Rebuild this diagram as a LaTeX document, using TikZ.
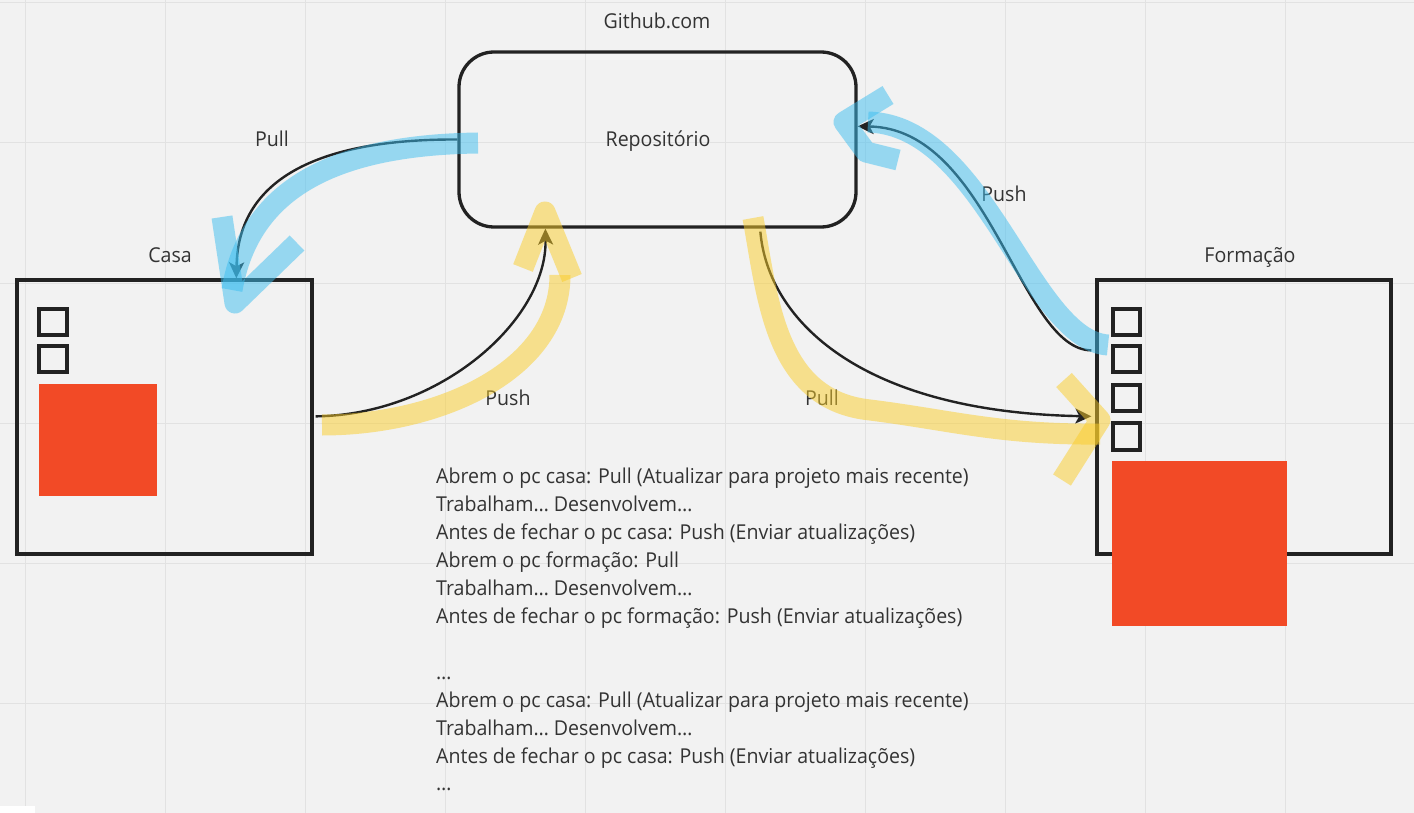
\documentclass[tikz,border=0pt]{standalone}
\usepackage{fontspec}
\setmainfont{Open Sans}[FakeStretch=0.955]
\usetikzlibrary{arrows.meta,calc}
\definecolor{bg}{RGB}{242,242,242}
\definecolor{gridc}{RGB}{226,226,226}
\definecolor{ink}{RGB}{34,34,34}
\definecolor{txt}{RGB}{51,51,51}
\definecolor{redc}{RGB}{242,74,38}
\definecolor{hlblue}{RGB}{60,190,240}
\definecolor{hlyellow}{RGB}{250,205,40}
\begin{document}
\begin{tikzpicture}[x=1pt,y=-1pt,
  box/.style={draw=ink, line width=3.3pt, inner sep=0pt},
  lbl/.style={text=txt, font=\fontsize{20.5}{28}\selectfont, inner sep=0pt},
  conn/.style={draw=ink, line width=2.4pt, -{Stealth[length=16pt,width=15pt,inset=4pt]}},
  hlb/.style={draw=hlblue, draw opacity=0.5, line width=21pt, line join=round},
  hly/.style={draw=hlyellow, draw opacity=0.5, line width=21pt, line join=round},
  chk/.style={draw=ink, line width=3.5pt},
  redbox/.style={fill=redc}
]
% background and grid
\useasboundingbox (0,0) rectangle (1414,813);
\fill[bg] (0,0) rectangle (1414,813);
\foreach \gx in {25,165,...,1405} \draw[gridc, line width=1pt] (\gx,0) -- (\gx,813);
\foreach \gy in {3,143,...,813} \draw[gridc, line width=1pt] (0,\gy) -- (1414,\gy);
\fill[white] (0,806) rectangle (35,813);

% main boxes
\node[box, rounded corners=35pt, minimum width=397pt, minimum height=175pt] (repo) at (657.5,139.5) {};
\node[lbl, anchor=base] (repolbl) at (658,147) {Repositório};
\node[lbl, anchor=base] (github) at (657,29) {Github.com};
\node[box, minimum width=295pt, minimum height=274pt] (casa) at (164.5,417) {};
\node[lbl, anchor=base] (casalbl) at (170,262) {Casa};
\node[box, minimum width=294pt, minimum height=274pt] (form) at (1244,417) {};
\node[lbl, anchor=base] (formlbl) at (1250,262) {Formação};

% contents of Casa
\draw[chk] (39,309) rectangle (67,335);
\draw[chk] (39,346) rectangle (67,372);
\fill[redbox] (39,384) rectangle (157,496);

% contents of Formacao
\draw[chk] (1113,309) rectangle (1140,335);
\draw[chk] (1113,346) rectangle (1140,372);
\draw[chk] (1113,385) rectangle (1140,411);
\draw[chk] (1113,423) rectangle (1140,450);
\fill[redbox] (1112,461) rectangle (1287,626);

% connectors
\draw[conn] (repo.west) .. controls (345,139) and (238,165) .. ($(casa.north west)+(221,0)$);
\draw[conn] ($(form.north west)+(-4,72)$) .. controls (1020,350) and (990,128) .. ($(repo.north east)+(0,76)$);
\draw[conn] ($(casa.north east)+(2,138)$) .. controls (440,415) and (547,320) .. ($(repo.south west)+(88,0)$);
\draw[conn] ($(repo.south west)+(303,3)$) .. controls (768,320) and (860,412) .. ($(form.north west)+(-4,138)$);

% connector labels
\node[lbl, anchor=base] (l1) at (272,147) {Pull};
\node[lbl, anchor=base] (l2) at (1004,202) {Push};
\node[lbl, anchor=base] (l3) at (508,405) {Push};
\node[lbl, anchor=base] (l4) at (822,405) {Pull};

% notes
\begin{scope}[every node/.style={lbl, anchor=base west}]
\node (n1) at (436,483) {Abrem o pc casa: Pull (Atualizar para projeto mais recente)};
\node (n2) at (436,511) {Trabalham… Desenvolvem…};
\node (n3) at (436,539) {Antes de fechar o pc casa: Push (Enviar atualizações)};
\node (n4) at (436,567) {Abrem o pc formação: Pull};
\node (n5) at (436,595) {Trabalham… Desenvolvem…};
\node (n6) at (436,623) {Antes de fechar o pc formação: Push (Enviar atualizações)};
\node (n7) at (436,679) {…};
\node (n8) at (436,707) {Abrem o pc casa: Pull (Atualizar para projeto mais recente)};
\node (n9) at (436,735) {Trabalham… Desenvolvem…};
\node (n10) at (436,763) {Antes de fechar o pc casa: Push (Enviar atualizações)};
\node (n11) at (436,790) {…};
\end{scope}

% highlighter strokes
\draw[hlb] (478,143) .. controls (340,145) and (250,185) .. (232,290);
\draw[hlb] (222,217) -- (235,303) -- (297,243);
\draw[hlb] (1108,345) .. controls (1030,340) and (985,125) .. (868,122);
\draw[hlb] (888,95) -- (844,122) -- (866,152) -- (898,160);
\draw[hly] (322,425) .. controls (440,425) and (560,370) .. (560,275);
\draw[hly] (523,268) -- (545,212) -- (572,278);
\draw[hly] (753,218) .. controls (768,300) and (775,400) .. (870,410) .. controls (950,420) and (1000,435) .. (1100,434);
\draw[hly] (1064,380) -- (1100,420) -- (1062,480);
\end{tikzpicture}
\end{document}
